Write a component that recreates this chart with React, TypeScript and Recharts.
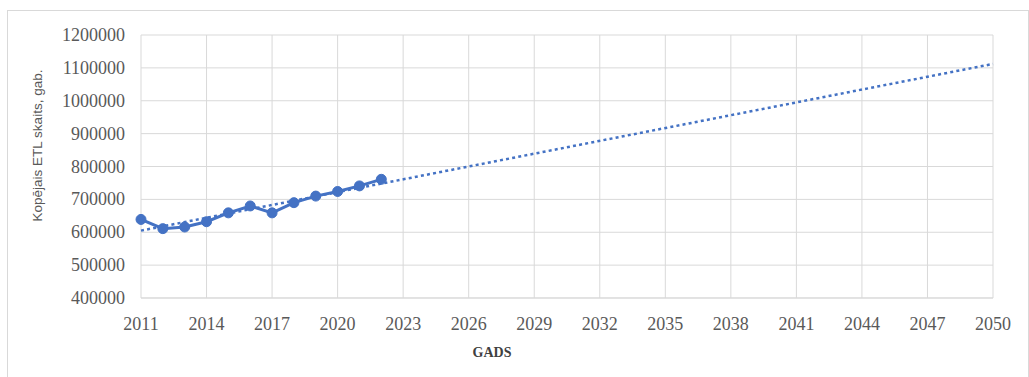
import { LineChart, Line, XAxis, YAxis, CartesianGrid } from "recharts";

const years = [2011, 2012, 2013, 2014, 2015, 2016, 2017, 2018, 2019, 2020, 2021, 2022];
const etlCount = [639000, 611000, 616000, 632000, 659000, 680000, 659000, 690000, 710000, 724000, 741000, 761000];

// trendline endpoints
const trendYears = [2011, 2050];
const trendValues = [605000, 1112000];

const yearTicks = [2011, 2014, 2017, 2020, 2023, 2026, 2029, 2032, 2035, 2038, 2041, 2044, 2047, 2050];
const countTicks = [400000, 500000, 600000, 700000, 800000, 900000, 1000000, 1100000, 1200000];

const yTitle = "Kopējais ETL skaits, gab.";
const xTitle = "GADS";

const BLUE = "#4472C4";
const GRID = "#d9d9d9";
const TICK = "#595959";
const SERIF = "'Liberation Serif', 'Times New Roman', serif";

type Row = { year: number; count?: number; trend?: number };

const rows: Row[] = (() => {
  const m = new Map<number, Row>();
  years.forEach((y, i) => m.set(y, { ...(m.get(y) || { year: y }), count: etlCount[i] }));
  trendYears.forEach((y, i) => m.set(y, { ...(m.get(y) || { year: y }), trend: trendValues[i] }));
  return [...m.values()].sort((a, b) => a.year - b.year);
})();

function XTick({ x, y, payload }: any) {
  return (
    <text x={x} y={y + 30} textAnchor="middle" fontFamily={SERIF} fontSize={18} fill={TICK}>
      {payload.value}
    </text>
  );
}

function YTick({ x, y, payload }: any) {
  return (
    <text x={x - 14} y={y + 6} textAnchor="end" fontFamily={SERIF} fontSize={18} fill={TICK}>
      {payload.value}
    </text>
  );
}

export default function App() {
  return (
    <div
      style={{
        position: "absolute",
        left: 7,
        top: 10,
        width: 1020,
        height: 372,
        border: `1px solid ${GRID}`,
        background: "#fff",
        fontFamily: SERIF,
      }}
    >
      <LineChart width={1018} height={366} data={rows} margin={{ top: 24, right: 33, left: 0, bottom: 29 }}>
        <CartesianGrid stroke={GRID} strokeWidth={1} />
        <XAxis
          dataKey="year"
          type="number"
          domain={[2011, 2050]}
          ticks={yearTicks}
          interval={0}
          axisLine={{ stroke: GRID }}
          tickLine={false}
          tickSize={0}
          tick={<XTick />}
          height={50}
          label={{
            content: ({ viewBox }: any) => (
              <text
                x={viewBox.x + 351}
                y={viewBox.y + 59}
                textAnchor="middle"
                fontFamily={SERIF}
                fontWeight="bold"
                fontSize={14}
                fill="#404040"
              >
                {xTitle}
              </text>
            ),
          }}
        />
        <YAxis
          type="number"
          domain={[400000, 1200000]}
          ticks={countTicks}
          interval={0}
          width={133}
          axisLine={false}
          tickLine={false}
          tickSize={0}
          tick={<YTick />}
          label={{
            content: ({ viewBox }: any) => {
              const cx = viewBox.x + 29;
              const cy = viewBox.y + viewBox.height / 2 - 21;
              return (
                <text
                  x={cx}
                  y={cy}
                  transform={`rotate(-90 ${cx} ${cy})`}
                  textAnchor="middle"
                  dominantBaseline="central"
                  fontFamily="'Liberation Sans', Arial, sans-serif"
                  fontSize={13.5}
                  fill={TICK}
                >
                  {yTitle}
                </text>
              );
            },
          }}
        />
        <Line
          dataKey="trend"
          stroke={BLUE}
          strokeWidth={2.5}
          strokeDasharray="3 3.2"
          dot={false}
          connectNulls
          isAnimationActive={false}
        />
        <Line
          dataKey="count"
          stroke={BLUE}
          strokeWidth={3}
          dot={{ r: 5, fill: BLUE, stroke: BLUE, strokeWidth: 1 }}
          connectNulls
          isAnimationActive={false}
        />
      </LineChart>
    </div>
  );
}
